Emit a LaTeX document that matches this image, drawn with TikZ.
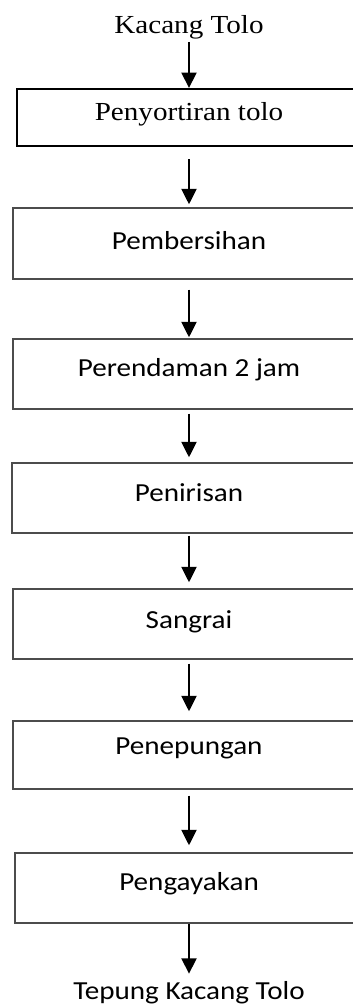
\documentclass[tikz,border=0pt]{standalone}
\usepackage{fontspec}
\setmainfont{Liberation Serif}
\newfontfamily\calfont{Carlito}
\usetikzlibrary{arrows.meta}

\tikzset{
  serifbox/.style={draw=black, line width=2pt, inner sep=0pt,
    text height=18pt, font=\fontsize{26}{30}\selectfont},
  stepbox/.style={draw=black!70, line width=1.4pt, inner sep=0pt,
    text height=18pt, font=\fontsize{26}{30}\selectfont\calfont},
  endlabel/.style={inner sep=0pt},
  flow/.style={line width=2.1pt, -{Triangle[width=15pt,length=15.5pt]}},
}
\newcommand{\wideT}[1]{\scalebox{1.12}[1]{#1}}
\newcommand{\wideC}[1]{\scalebox{1.12}[1]{#1}}

\begin{document}
\begin{tikzpicture}[x=1pt, y=-1pt]
  \useasboundingbox (0,0) rectangle (353,1007);
  \fill[white] (0,0) rectangle (353,1007);
  \clip (0,0) rectangle (353,1007);

  % start and end labels
  \node[endlabel, anchor=base, font=\fontsize{26}{30}\selectfont] (start) at (189,33) {\wideT{Kacang Tolo}};
  \node[endlabel, anchor=base, font=\fontsize{26}{30}\selectfont\calfont] (finish) at (189,999) {\wideC{Tepung Kacang Tolo}};

  % process steps
  \node[serifbox, minimum width=344pt, minimum height=57pt, text depth=13pt] (s1) at (189,117.5) {\wideT{Penyortiran tolo}};
  \node[stepbox, minimum width=352pt, minimum height=71pt, text depth=7pt]  (s2) at (189,243.5) {\wideC{Pembersihan}};
  \node[stepbox, minimum width=352pt, minimum height=70pt, text depth=14pt] (s3) at (189,374) {\wideC{Perendaman 2 jam}};
  \node[stepbox, minimum width=354pt, minimum height=70pt, text depth=12pt] (s4) at (189,498) {\wideC{Penirisan}};
  \node[stepbox, minimum width=352pt, minimum height=70pt, text depth=10pt] (s5) at (189,624) {\wideC{Sangrai}};
  \node[stepbox, minimum width=352pt, minimum height=68pt, text depth=20pt] (s6) at (189,755) {\wideC{Penepungan}};
  \node[stepbox, minimum width=348pt, minimum height=70pt, text depth=14pt] (s7) at (189,888) {\wideC{Pengayakan}};

  % connectors
  \draw[flow, shorten <=3pt]              (start.south) -- (s1.north);
  \draw[flow, shorten <=12pt, shorten >=3pt] (s1.south) -- (s2.north);
  \draw[flow, shorten <=10pt, shorten >=1pt] (s2.south) -- (s3.north);
  \draw[flow, shorten <=4pt,  shorten >=5pt] (s3.south) -- (s4.north);
  \draw[flow, shorten <=2pt,  shorten >=6pt] (s4.south) -- (s5.north);
  \draw[flow, shorten <=4pt,  shorten >=9pt] (s5.south) -- (s6.north);
  \draw[flow, shorten <=6pt,  shorten >=7pt] (s6.south) -- (s7.north);
  \draw[flow, shorten >=7pt]                 (s7.south) -- (finish.north);
\end{tikzpicture}
\end{document}
